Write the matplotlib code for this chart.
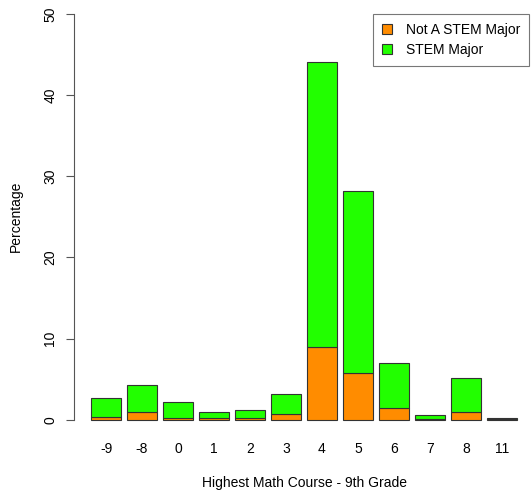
import numpy as np
import matplotlib.pyplot as plt

plt.rcParams['font.family'] = ['Liberation Sans', 'DejaVu Sans']

# Data
courses = ['-9', '-8', '0', '1', '2', '3', '4', '5', '6', '7', '8', '11']
not_stem = [0.35, 0.9, 0.25, 0.2, 0.2, 0.7, 9.0, 5.7, 1.4, 0.12, 0.9, 0.1]
totals = [2.7, 4.3, 2.2, 1.0, 1.2, 3.2, 44.1, 28.2, 7.0, 0.6, 5.2, 0.25]
stem = [t - n for t, n in zip(totals, not_stem)]

orange = '#FF8C00'
green = '#22FF00'
fs = 10

fig = plt.figure(figsize=(5.31, 4.92), dpi=100)
# R-style barplot layout: width 1, space 0.2
ax = fig.add_axes([74 / 531, 56 / 492, 460 / 531, 438.4 / 492])

x = 0.7 + 1.2 * np.arange(len(courses))
ax.bar(x, not_stem, width=1, color=orange, edgecolor='#333333', linewidth=0.8,
       label='Not A STEM Major')
ax.bar(x, stem, width=1, bottom=not_stem, color=green, edgecolor='#333333',
       linewidth=0.8, label='STEM Major')

ax.set_xlim(-0.368, 14.968)
ax.set_ylim(-2, 52)

for s in ['top', 'right', 'bottom']:
    ax.spines[s].set_visible(False)
ax.spines['left'].set_bounds(0, 50)
ax.spines['left'].set_color('#555555')
ax.set_yticks([0, 10, 20, 30, 40, 50])
ax.tick_params(axis='y', length=6, color='#555555', labelsize=fs,
               labelrotation=90, pad=6)
for lab in ax.get_yticklabels():
    lab.set_verticalalignment('center')
ax.set_xticks(x)
ax.set_xticklabels(courses)
ax.tick_params(axis='x', length=0, labelsize=fs, pad=4)

ax.set_ylabel('Percentage', fontsize=fs, labelpad=15)
ax.set_xlabel('Highest Math Course - 9th Grade', fontsize=fs, labelpad=15)

leg = ax.legend(loc='upper left', bbox_to_anchor=((373 - 74) / 460, 1 - 16.4 / 438.4),
                borderaxespad=0, fontsize=fs, frameon=True, fancybox=False,
                edgecolor='#555555', handlelength=0.7, handleheight=0.7,
                borderpad=0.65, labelspacing=0.4, handletextpad=1.0)
leg.get_frame().set_linewidth(0.8)

plt.savefig('out.png', dpi=100)
